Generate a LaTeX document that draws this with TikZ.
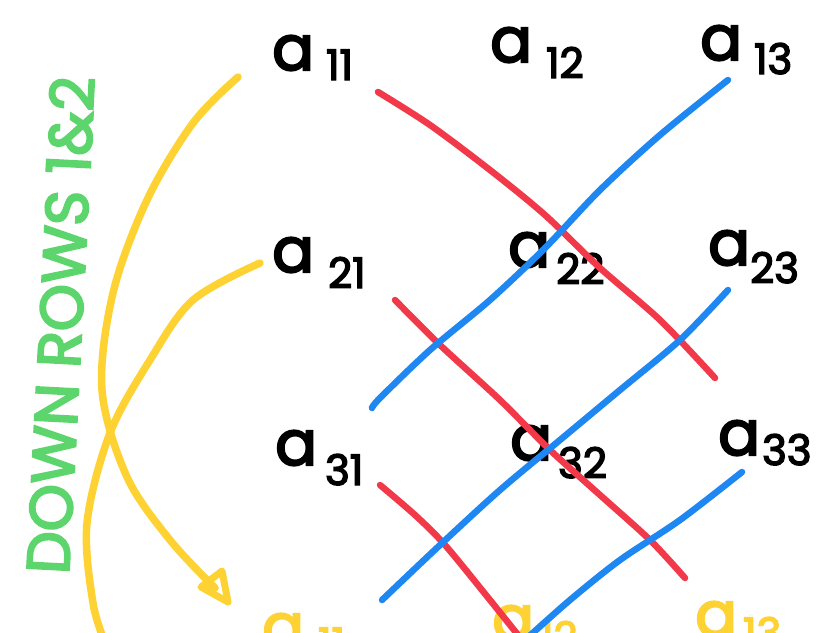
\documentclass[tikz,border=0pt]{standalone}
\usepackage{fontspec}
\setmainfont{Poppins}
\newfontfamily\hand{Poppins}[FakeBold=3.5]
\usetikzlibrary{arrows.meta}
\definecolor{redl}{HTML}{F2394A}
\definecolor{bluel}{HTML}{1F87F2}
\definecolor{yell}{HTML}{FDD232}
\definecolor{greenl}{HTML}{5CD66C}
\newcommand{\ment}[3]{a\hspace{#2pt}\raisebox{-#3pt}{\fontsize{42}{42}\selectfont #1}}
\tikzset{
  entry/.style={anchor=base west, inner sep=0pt, font=\hand\fontsize{62}{62}\selectfont},
  redline/.style={draw=redl, line width=6.5pt, line cap=round, line join=round},
  blueline/.style={draw=bluel, line width=6.5pt, line cap=round, line join=round},
  yelline/.style={draw=yell, line width=7.5pt, line cap=round, line join=round},
  greentext/.style={text=greenl, inner sep=0pt, font=\hand\fontsize{60}{60}\selectfont},
}
\begin{document}
\begin{tikzpicture}[x=1pt,y=-1pt]
\useasboundingbox (0,0) rectangle (826,632);
\fill[white] (0,0) rectangle (826,632);
\begin{scope}
\clip (0,0) rectangle (826,632);
% matrix entries
\node[entry] (a11) at (272,70) {\ment{11}{12}{10}};
\node[entry] (a12) at (490,62) {\ment{12}{14}{16}};
\node[entry] (a13) at (700,60) {\ment{13}{12}{14}};
\node[entry] (a21) at (272,272) {\ment{21}{14}{16}};
\node[entry] (a22) at (508,267) {\ment{22}{6}{17}};
\node[entry] (a23) at (708,265) {\ment{23}{0}{18}};
\node[entry] (a31) at (275,465) {\ment{31}{8}{20}};
\node[entry] (a32) at (510,460) {\ment{32}{6}{18}};
\node[entry] (a33) at (718,455) {\ment{33}{2}{10}};
% repeated first row (yellow)
\node[entry, text=yell] (b11) at (262,648) {\ment{11}{14}{10}};
\node[entry, text=yell] (b12) at (492,640) {\ment{12}{6}{12}};
\node[entry, text=yell] (b13) at (695,636) {\ment{13}{6}{12}};
% red diagonals
\draw[redline] plot[smooth, tension=0.5] coordinates {(378,92) (430,125) (490,170) (545,215) (600,268) (660,320) (715,378)};
\draw[redline] plot[smooth, tension=0.5] coordinates {(395,300) (440,345) (500,400) (550,450) (600,495) (650,540) (685,578)};
\draw[redline] plot[smooth, tension=0.5] coordinates {(380,485) (415,515) (445,545) (490,600) (522,640)};
% blue anti-diagonals
\draw[blueline] plot[smooth, tension=0.5] coordinates {(372,408) (380,398) (430,350) (490,300) (545,248) (600,190) (660,135) (728,80)};
\draw[blueline] plot[smooth, tension=0.5] coordinates {(382,600) (440,545) (500,490) (560,440) (620,390) (680,340) (728,290)};
\draw[blueline] plot[smooth, tension=0.5] coordinates {(525,640) (570,600) (620,560) (680,520) (742,472)};
% yellow arrows
\coordinate (tip) at (228,602);
\coordinate (barbL) at (201,587);
\coordinate (barbR) at (222,571);
\draw[yelline]
  plot[smooth, tension=0.55] coordinates {(238,77) (193,123) (147,200) (113,293) (102,390) (127,477) (170,540) (215,588)};
\draw[yelline, line width=7pt] (tip) -- (barbL) -- (barbR) -- cycle;
\draw[yelline]
  plot[smooth, tension=0.55] coordinates {(260,263) (193,300) (150,360) (110,433) (87,523) (93,603) (106,645)};
% green label
\node[greentext, rotate=87] (lbl) at (60,325) {DOWN ROWS 1\&2};
\end{scope}
\end{tikzpicture}
\end{document}
